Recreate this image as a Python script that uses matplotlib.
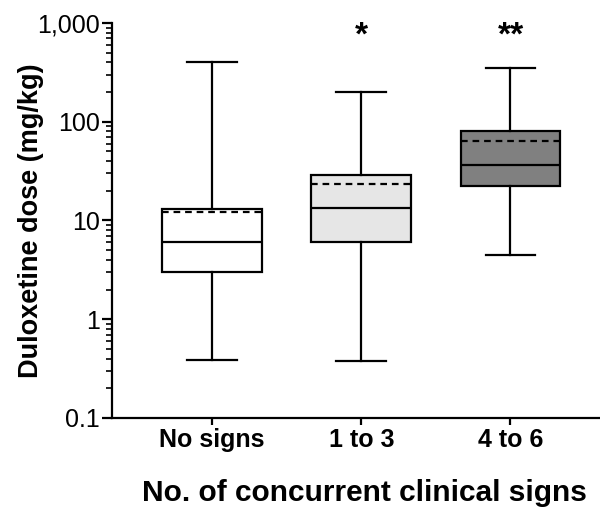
import matplotlib
matplotlib.use('Agg')
import matplotlib.pyplot as plt
from matplotlib.ticker import FixedLocator, LogLocator, NullFormatter

plt.rcParams['font.family'] = ['Liberation Sans', 'DejaVu Sans']

# Valeurs (mg/kg)
groups = ['No signs', '1 to 3', '4 to 6']
whisker_low = [0.39, 0.38, 4.5]
q1 = [3.0, 6.0, 22.4]
median = [6.0, 13.3, 36.5]
q3 = [13.2, 29.0, 81.0]
whisker_high = [405, 200, 350]
mean = [12.2, 23.6, 63.4]
stars = ['', '*', '**']
box_colors = ['white', '#e6e6e6', '#808080']

fig = plt.figure(figsize=(6, 5.11), dpi=100)
ax = fig.add_axes([0.187, 0.182, 0.813, 0.773])

stats = []
for i in range(len(groups)):
    stats.append({'whislo': whisker_low[i], 'q1': q1[i], 'med': median[i],
                  'q3': q3[i], 'whishi': whisker_high[i], 'mean': mean[i],
                  'label': groups[i]})

lw = 1.6
bp = ax.bxp(stats, positions=range(len(groups)), widths=0.67, patch_artist=True,
            showmeans=True, meanline=True, showfliers=False,
            boxprops=dict(linewidth=lw, edgecolor='black'),
            medianprops=dict(color='black', linewidth=lw),
            meanprops=dict(color='black', linewidth=lw, linestyle=(0, (3, 2.2))),
            whiskerprops=dict(linewidth=lw), capprops=dict(linewidth=lw))
for patch, c in zip(bp['boxes'], box_colors):
    patch.set_facecolor(c)

ax.set_yscale('log')
ax.set_ylim(0.1, 1000)
ax.set_xlim(-0.67, 2.6)
ax.yaxis.set_major_locator(FixedLocator([0.1, 1, 10, 100, 1000]))
ax.set_yticklabels(['0.1', '1', '10', '100', '1,000'])
ax.yaxis.set_minor_locator(LogLocator(base=10, subs=range(2, 10)))
ax.yaxis.set_minor_formatter(NullFormatter())

ax.set_xticks(range(len(groups)))
ax.set_xticklabels(groups, fontsize=18, fontweight='bold')
ax.tick_params(axis='y', which='major', labelsize=18, length=7, width=lw, pad=2)
ax.tick_params(axis='y', which='minor', length=4, width=1.2)
ax.tick_params(axis='x', length=5, width=lw, pad=2)

for s in ['top', 'right']:
    ax.spines[s].set_visible(False)
for s in ['left', 'bottom']:
    ax.spines[s].set_linewidth(lw)

ax.set_ylabel('Duloxetine dose (mg/kg)', fontsize=19.5, fontweight='bold', labelpad=-5)
ax.set_xlabel('No. of concurrent clinical signs', fontsize=21.5, fontweight='bold', labelpad=20)
ax.xaxis.label.set_x(0.518)

for i, s in enumerate(stars):
    if s:
        ax.text(i, 740, s, ha='center', va='center', fontsize=24, fontweight='bold')

fig.savefig('out.png', dpi=100)
